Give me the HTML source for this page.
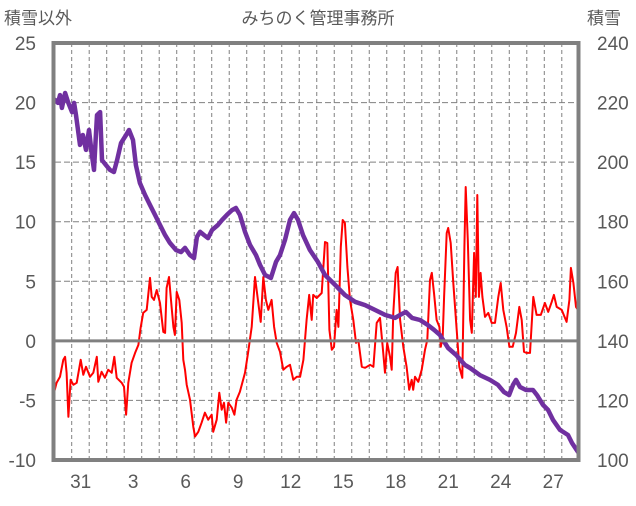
<!DOCTYPE html>
<html><head><meta charset="utf-8"><style>
body{margin:0;background:#fff;}
svg text{font-family:"Liberation Sans","Noto Sans CJK JP",sans-serif;fill:#595959;}
</style></head><body>
<svg id="c" width="636" height="501" xmlns="http://www.w3.org/2000/svg">
<text x="318" y="24" font-size="17" text-anchor="middle">みちのく管理事務所</text>
<text x="4" y="24" font-size="17">積雪以外</text>
<text x="587" y="24" font-size="17">積雪</text>
<g id="grid"></g><g id="series"></g><g id="axes"></g>
</svg>
<script>
const leftTicks=[25,20,15,10,5,0,-5,-10];
const rightTicks=[240,220,200,180,160,140,120,100];
const dayLabels=["31","3","6","9","12","15","18","21","24","27"];
const dayLabelIdx=[0,3,6,9,12,15,18,21,24,27];
const snowT=[-0.98,-0.81,-0.69,-0.58,-0.40,-0.23,0,0.12,0.23,0.46,0.63,0.81,0.98,1.15,1.27,1.44,1.62,1.73,1.96,2.19,2.42,2.60,2.83,3.12,3.29,3.52,3.69,3.92,4.21,4.50,4.79,5.08,5.37,5.65,6.00,6.29,6.52,6.81,7.04,7.21,7.39,7.62,7.85,8.08,8.42,8.66,8.94,9.23,9.46,9.69,9.98,10.27,10.62,10.85,11.14,11.48,11.77,12.00,12.29,12.58,12.81,13.04,13.33,13.73,14.19,14.60,15.18,15.75,16.33,16.91,17.48,18.06,18.64,18.93,19.27,19.62,20.08,20.54,20.89,21.23,21.70,22.16,22.68,22.97,23.54,24.12,24.58,24.93,25.22,25.45,25.62,25.85,26.20,26.60,26.83,27.18,27.47,27.76,28.16,28.62,28.85,29.20];
const snowV=[220.9,219.9,222.5,218.2,223.2,220.2,216.8,219.9,215.8,205.8,209.1,204.1,210.8,202.4,197.4,215.8,216.8,200.7,199.0,197.4,196.7,200.7,206.4,209.1,210.8,207.4,199.0,193.0,189.0,185.6,182.3,178.9,175.5,172.9,170.5,169.8,171.2,168.8,167.8,174.9,176.6,175.5,174.5,177.2,178.9,180.6,182.3,183.9,184.6,182.3,176.6,172.2,168.8,165.5,162.1,161.1,166.5,168.8,173.9,180.6,182.9,180.6,175.5,170.5,166.5,162.1,158.8,155.4,153.1,152.0,150.4,148.7,147.7,148.7,149.7,147.7,147.0,145.3,143.7,142.0,137.6,135.3,131.9,130.9,128.5,126.9,125.2,122.8,121.8,125.2,126.9,124.5,123.5,123.5,121.8,118.5,116.8,113.4,110.1,108.4,105.7,102.7];
const otherT=[-1.04,-0.89,-0.69,-0.50,-0.40,-0.31,-0.21,-0.08,0.08,0.27,0.50,0.65,0.81,1.04,1.23,1.43,1.52,1.71,1.90,2.09,2.29,2.44,2.58,2.87,3.00,3.12,3.25,3.44,3.64,3.83,3.96,4.11,4.31,4.50,4.60,4.73,4.89,5.08,5.27,5.37,5.46,5.60,5.75,5.85,5.94,6.04,6.19,6.33,6.42,6.52,6.62,6.81,7.00,7.10,7.29,7.48,7.67,7.86,8.06,8.15,8.35,8.50,8.64,8.77,8.89,9.02,9.22,9.37,9.50,9.69,9.98,10.17,10.37,10.56,10.75,10.89,11.04,11.19,11.33,11.52,11.66,11.81,12.00,12.19,12.39,12.58,12.77,12.97,13.16,13.35,13.54,13.69,13.83,13.92,14.12,14.41,14.60,14.73,14.85,14.99,15.12,15.27,15.37,15.51,15.62,15.75,15.89,16.04,16.23,16.39,16.52,16.72,16.91,17.20,17.39,17.58,17.77,17.93,18.06,18.19,18.35,18.45,18.54,18.68,18.79,18.93,19.12,19.31,19.46,19.60,19.69,19.79,19.98,20.18,20.37,20.50,20.66,20.76,20.89,21.04,21.20,21.28,21.39,21.47,21.62,21.71,21.85,22.00,22.20,22.35,22.52,22.64,22.72,22.84,22.97,23.07,23.20,23.30,23.39,23.48,23.58,23.68,23.83,24.02,24.22,24.41,24.60,24.74,24.89,25.08,25.24,25.43,25.62,25.81,25.95,26.08,26.24,26.43,26.62,26.81,27.05,27.29,27.48,27.68,27.81,27.97,28.26,28.54,28.70,28.79,28.93,29.08,29.20];
const otherV=[-4.36,-3.52,-3.02,-1.59,-1.34,-2.68,-6.37,-3.27,-3.69,-3.52,-1.59,-2.85,-2.18,-3.02,-2.68,-1.34,-3.44,-2.60,-3.10,-2.43,-2.68,-1.34,-3.10,-3.52,-3.85,-6.20,-3.52,-1.84,-1.01,-0.34,1.09,2.35,2.60,5.28,3.69,3.44,4.27,3.18,0.75,0.67,4.44,5.36,2.85,1.17,0.50,4.11,3.44,1.51,-1.59,-2.43,-3.69,-4.94,-7.21,-8.04,-7.63,-6.87,-6.03,-6.62,-6.20,-7.63,-6.62,-4.36,-5.78,-5.20,-6.87,-5.20,-5.61,-6.20,-4.94,-4.27,-2.68,-0.92,1.17,5.36,3.18,1.59,5.36,3.44,2.60,3.44,1.17,-0.17,-0.92,-2.43,-2.18,-2.01,-3.27,-3.02,-3.02,-1.59,1.76,3.86,1.76,3.86,3.60,4.02,8.30,8.21,0.92,-0.75,-0.50,2.60,1.17,7.88,10.14,9.89,6.20,3.44,1.76,-0.17,0.08,-2.18,-2.26,-2.01,-2.18,1.51,1.93,-0.50,-2.68,-0.17,-1.34,-2.43,2.35,5.70,6.20,1.76,-0.50,-2.18,-4.11,-3.27,-4.11,-3.02,-3.44,-2.43,-0.75,0.08,5.11,5.70,4.02,1.76,1.17,-0.50,0.34,3.69,9.05,9.47,8.21,4.86,0.92,-2.18,-3.10,7.88,12.91,8.46,1.76,0.67,7.38,3.69,12.24,3.69,5.70,3.69,2.01,2.35,1.51,1.51,3.69,4.86,2.60,1.17,-0.50,-0.50,0.67,2.85,1.76,-0.92,-1.01,-1.01,3.69,2.18,2.18,3.18,2.43,3.27,3.86,2.85,2.60,1.59,3.44,6.12,4.86,2.85,2.60];

const NS='http://www.w3.org/2000/svg';
const X0=55,X1=579,Y0=43,Y1=460;
const xs=t=>72+17.33*t;
const yl=v=>Y0+(25-v)*(Y1-Y0)/35;
const yr=v=>Y0+(240-v)*(Y1-Y0)/140;
function mk(tag,parent,attrs){const e=document.createElementNS(NS,tag);for(const k in attrs)e.setAttribute(k,attrs[k]);parent.appendChild(e);return e;}
const grid=document.getElementById('grid'),series=document.getElementById('series'),axes=document.getElementById('axes');
for(let k=0;k<=28;k++){const x=xs(k*1.01)-0.3;
 const l=mk('line',grid,{x1:x,x2:x,y1:Y0,y2:Y1,stroke:'#808080','stroke-width':1,'stroke-dasharray':'4 3'});
 
 }
leftTicks.forEach((v,i)=>{const y=yl(v);
 if(v!==0&&v!==25&&v!==-10){const l=mk('line',grid,{x1:X0,x2:X1,y1:y,y2:y,stroke:'#808080','stroke-width':1,'stroke-dasharray':'6 3'});
  
  }
 const t=mk('text',axes,{x:36,y:y+7,'font-size':19,'text-anchor':'end'});t.textContent=v;
 
 
 const r=mk('text',axes,{x:597,y:yr(rightTicks[i])+7,'font-size':19});r.textContent=rightTicks[i];
 
 });
const z=mk('line',axes,{x1:X0,x2:X1,y1:yl(0),y2:yl(0),stroke:'#808080','stroke-width':3});


dayLabels.forEach((s,i)=>{const t=mk('text',axes,{x:xs(dayLabelIdx[i]*1.01+0.5),y:488,'font-size':19,'text-anchor':'middle'});t.textContent=s;
 
 });
const pr=otherT.map((t,i)=>xs(t).toFixed(1)+','+yl(otherV[i]).toFixed(1)).join(' ');
const red=mk('polyline',series,{points:pr,fill:'none',stroke:'#FF0000','stroke-width':2,'stroke-linejoin':'round'});


const pp=snowT.map((t,i)=>xs(t).toFixed(1)+','+yr(snowV[i]).toFixed(1)).join(' ');
const pur=mk('polyline',series,{points:pp,fill:'none',stroke:'#7030A0','stroke-width':4.5,'stroke-linejoin':'round','stroke-linecap':'round'});


const fr=mk('rect',axes,{x:53.5,y:43,width:525,height:417,fill:'none',stroke:'#808080','stroke-width':4});


</script>
</body></html>
